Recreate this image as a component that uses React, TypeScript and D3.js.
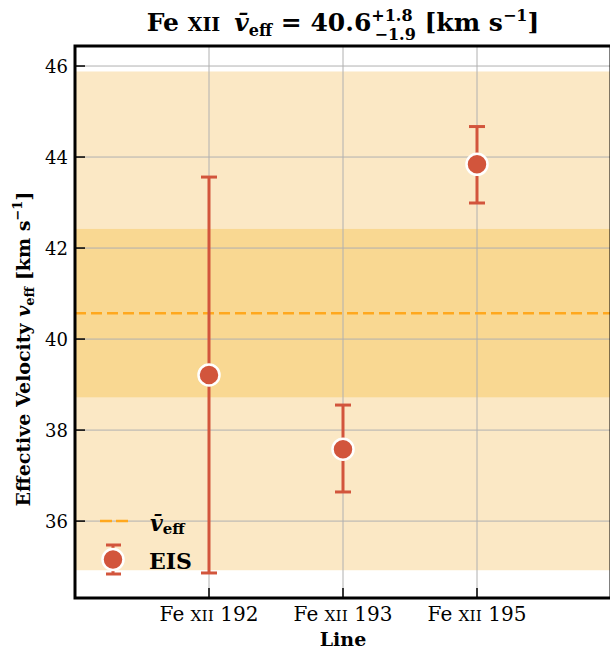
import React from "react";
import * as d3 from "d3";

const lines = ["192", "193", "195"];
const values = [39.21, 37.58, 43.84];
const errLow = [34.86, 36.64, 42.99];
const errHigh = [43.56, 38.55, 44.67];
const meanV = 40.57;
const band1 = [38.72, 42.42];
const band2 = [34.92, 45.88];
const yTicks = [36, 38, 40, 42, 44, 46];

const W = 610, H = 654;
const M = { left: 75, top: 46, right: 611, bottom: 598 };
const FONT = "'DejaVu Serif', 'Liberation Serif', serif";
const ORANGE = "#ffa81e";
const RED = "#d2553c";

export default function App() {
  const x = d3.scaleLinear().domain([-1, 3]).range([M.left, M.right]);
  const y = d3.scaleLinear().domain([34.31, 46.44]).range([M.bottom, M.top]);
  return (
    <svg width={W} height={H} style={{ position: "absolute", left: 0, top: 0 }} fontFamily={FONT}>
      <rect x={0} y={0} width={W} height={H} fill="white" />
      {/* bands */}
      <rect x={M.left} width={M.right - M.left} y={y(band2[1])} height={y(band2[0]) - y(band2[1])} fill="#fbe8c5" />
      <rect x={M.left} width={M.right - M.left} y={y(band1[1])} height={y(band1[0]) - y(band1[1])} fill="#f9d892" />
      {/* grid */}
      {yTicks.map((t) => (
        <line key={t} x1={M.left} x2={M.right} y1={y(t)} y2={y(t)} stroke="#b0b0b0" strokeWidth={1} />
      ))}
      {[0, 1, 2, 3].map((i) => (
        <line key={i} x1={x(i)} x2={x(i)} y1={M.top} y2={M.bottom} stroke="#b0b0b0" strokeWidth={1} />
      ))}
      {/* mean line */}
      <line x1={M.left} x2={M.right} y1={y(meanV)} y2={y(meanV)} stroke={ORANGE} strokeWidth={2.5} strokeDasharray="11,5" />
      {/* error bars + points */}
      {values.map((v, i) => (
        <g key={i}>
          <line x1={x(i)} x2={x(i)} y1={y(errLow[i])} y2={y(errHigh[i])} stroke={RED} strokeWidth={3} />
          <line x1={x(i) - 8} x2={x(i) + 8} y1={y(errLow[i])} y2={y(errLow[i])} stroke={RED} strokeWidth={3} />
          <line x1={x(i) - 8} x2={x(i) + 8} y1={y(errHigh[i])} y2={y(errHigh[i])} stroke={RED} strokeWidth={3} />
          <circle cx={x(i)} cy={y(v)} r={10.5} fill={RED} stroke="white" strokeWidth={2.5} />
        </g>
      ))}
      {/* legend */}
      <line x1={100} x2={129} y1={521} y2={521} stroke={ORANGE} strokeWidth={2.5} strokeDasharray="12,4" />
      <text x={150} y={531} fontSize={22} fontWeight="bold" fontStyle="italic">
        v̄
        <tspan fontStyle="normal" fontSize={15} dy={3}>eff</tspan>
      </text>
      <line x1={113} x2={113} y1={545} y2={574} stroke={RED} strokeWidth={3} />
      <line x1={106} x2={121} y1={545} y2={545} stroke={RED} strokeWidth={3} />
      <line x1={106} x2={121} y1={574} y2={574} stroke={RED} strokeWidth={3} />
      <circle cx={113} cy={559.5} r={10.5} fill={RED} stroke="white" strokeWidth={2.5} />
      <text x={149} y={569} fontSize={22} fontWeight="bold">EIS</text>
      {/* ticks */}
      {yTicks.map((t) => (
        <g key={t}>
          <line x1={M.left} x2={M.left + 10} y1={y(t)} y2={y(t)} stroke="black" strokeWidth={1.5} />
          <text x={M.left - 7} y={y(t) + 7} fontSize={18} textAnchor="end">{t}</text>
        </g>
      ))}
      {lines.map((l, i) => (
        <g key={l}>
          <line x1={x(i)} x2={x(i)} y1={M.bottom} y2={M.bottom - 10} stroke="black" strokeWidth={1.5} />
          <text x={x(i)} y={621} fontSize={20} textAnchor="middle">
            Fe <tspan fontSize={15.5}>XII</tspan> {l}
          </text>
        </g>
      ))}
      {/* spines */}
      <rect x={M.left} y={M.top} width={M.right - M.left} height={M.bottom - M.top} fill="none" stroke="black" strokeWidth={3} />
      {/* axis labels */}
      <text x={343} y={646} fontSize={19} fontWeight="bold" textAnchor="middle">Line</text>
      <text transform="translate(30,349) rotate(-90)" fontSize={19} fontWeight="bold" textAnchor="middle">
        Effective Velocity <tspan fontStyle="italic">v</tspan>
        <tspan fontSize={13} dy={4}>eff</tspan>
        <tspan dy={-4}> [km s</tspan>
        <tspan fontSize={13} dy={-8}>−1</tspan>
        <tspan dy={8}>]</tspan>
      </text>
      {/* title */}
      <text x={343} y={31} fontSize={25} fontWeight="bold" textAnchor="middle">
        Fe <tspan fontSize={19}>XII</tspan>
        <tspan dx={14} fontStyle="italic">v̄</tspan>
        <tspan fontSize={16} dy={5}>eff</tspan>
        <tspan dy={-5}> = 40.6</tspan>
        <tspan fontSize={16} dy={-10}>+1.8</tspan>
        <tspan fontSize={16} dx={-38} dy={19}>−1.9</tspan>
        <tspan dy={-9}> [km s</tspan>
        <tspan fontSize={16} dy={-10}>−1</tspan>
        <tspan dy={10}>]</tspan>
      </text>
    </svg>
  );
}
